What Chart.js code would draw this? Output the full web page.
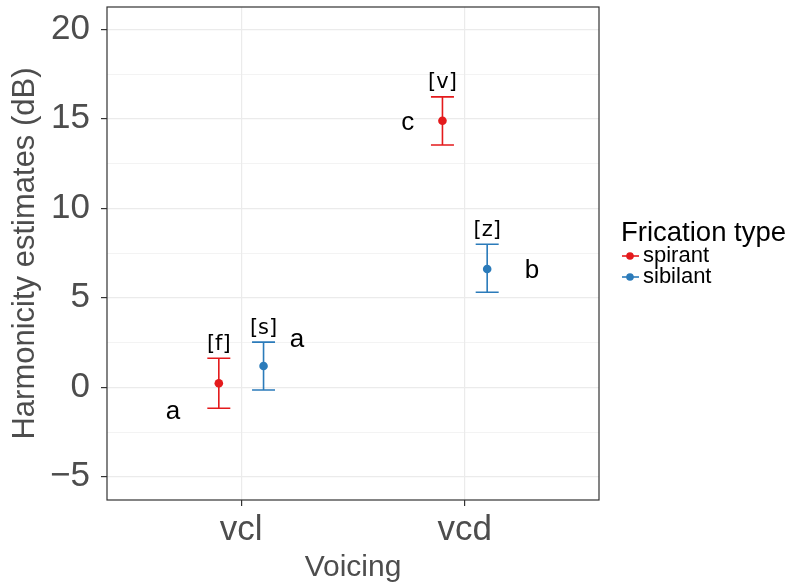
<!DOCTYPE html>
<html>
<head>
<meta charset="utf-8">
<script src="https://cdn.jsdelivr.net/npm/chart.js@4"></script>
<style>
html,body{margin:0;padding:0;background:#fff;}
#wrap{width:795px;height:583px;position:relative;}
</style>
</head>
<body>
<div id="wrap"><canvas id="c" width="795" height="583"></canvas></div>
<script>
// ---- data ----
const categories = ['vcl', 'vcd'];
const seriesNames = ['spirant', 'sibilant'];
const spirantMean = [0.22, 14.89];
const spirantLow = [-1.17, 13.54];
const spirantHigh = [1.62, 16.23];
const sibilantMean = [1.19, 6.61];
const sibilantLow = [-0.15, 5.31];
const sibilantHigh = [2.52, 7.99];
const spirantPhones = ['[f]', '[v]'];
const sibilantPhones = ['[s]', '[z]'];
const spirantLetters = ['a', 'c'];
const sibilantLetters = ['a', 'b'];
const spirantLetterX = [0.695, 1.745];
const spirantLetterY = [-1.45, 14.7];
const sibilantLetterX = [1.25, 2.3];
const sibilantLetterY = [2.57, 6.47];
const yTicks = [-5, -2.5, 0, 2.5, 5, 7.5, 10, 12.5, 15, 17.5, 20];

// ---- styles ----
const RED = '#e41a1c';
const BLUE = '#2b7bba';
const DODGE = 0.1;

function mk(means, low, high, phones, letters, lx, ly, off) {
  return means.map((m, i) => ({x: i + 1 + off, y: m, lo: low[i], hi: high[i], phone: phones[i], letter: letters[i], lx: lx[i], ly: ly[i]}));
}
const spirantPts = mk(spirantMean, spirantLow, spirantHigh, spirantPhones, spirantLetters, spirantLetterX, spirantLetterY, -DODGE);
const sibilantPts = mk(sibilantMean, sibilantLow, sibilantHigh, sibilantPhones, sibilantLetters, sibilantLetterX, sibilantLetterY, DODGE);

const annot = {
  id: 'annot',
  beforeDatasetsDraw(chart) {
    const ctx = chart.ctx, xs = chart.scales.x, ys = chart.scales.y;
    chart.data.datasets.forEach(ds => {
      ctx.save();
      ctx.strokeStyle = ds.backgroundColor;
      ctx.lineWidth = 1.6;
      ds.data.forEach(p => {
        const px = xs.getPixelForValue(p.x);
        const yl = ys.getPixelForValue(p.lo), yh = ys.getPixelForValue(p.hi);
        ctx.beginPath();
        ctx.moveTo(px, yl); ctx.lineTo(px, yh);
        ctx.moveTo(px - 11.5, yl); ctx.lineTo(px + 11.5, yl);
        ctx.moveTo(px - 11.5, yh); ctx.lineTo(px + 11.5, yh);
        ctx.stroke();
      });
      ctx.restore();
    });
  },
  afterDraw(chart) {
    const ctx = chart.ctx, xs = chart.scales.x, ys = chart.scales.y, a = chart.chartArea;
    ctx.save();
    // panel border
    ctx.strokeStyle = '#333333';
    ctx.lineWidth = 1.2;
    ctx.strokeRect(a.left, a.top, a.right - a.left, a.bottom - a.top);
    // labels
    ctx.fillStyle = '#000';
    ctx.textAlign = 'center';
    ctx.textBaseline = 'middle';
    chart.data.datasets.forEach(ds => {
      ds.data.forEach(p => {
        ctx.font = '21px "DejaVu Sans"';
        ctx.fillText(p.phone, xs.getPixelForValue(p.x), ys.getPixelForValue(p.hi) - 14);
        ctx.font = '26px "Liberation Sans"';
        ctx.fillText(p.letter, xs.getPixelForValue(p.lx), ys.getPixelForValue(p.ly) - 1);
      });
    });
    // legend
    ctx.textAlign = 'left';
    ctx.font = '27.5px "Liberation Sans"';
    ctx.fillText('Frication type', 621, 233);
    ctx.font = '22px "Liberation Sans"';
    chart.data.datasets.forEach((ds, i) => {
      const y = 256 + i * 21;
      ctx.strokeStyle = ds.backgroundColor;
      ctx.lineWidth = 1.6;
      ctx.beginPath(); ctx.moveTo(622, y); ctx.lineTo(639, y); ctx.stroke();
      ctx.fillStyle = ds.backgroundColor;
      ctx.beginPath(); ctx.arc(630, y, 3.8, 0, Math.PI * 2); ctx.fill();
      ctx.fillStyle = '#000';
      ctx.fillText(ds.label, 643, y);
    });
    ctx.restore();
  }
};

new Chart(document.getElementById('c'), {
  type: 'scatter',
  data: {
    datasets: [
      {label: seriesNames[0], data: spirantPts, backgroundColor: RED, borderColor: RED, pointRadius: 4.3, pointBorderWidth: 0, pointHoverRadius: 4.3},
      {label: seriesNames[1], data: sibilantPts, backgroundColor: BLUE, borderColor: BLUE, pointRadius: 4.3, pointBorderWidth: 0, pointHoverRadius: 4.3}
    ]
  },
  options: {
    responsive: false,
    animation: false,
    events: [],
    layout: {padding: {top: 7, right: 196, left: 0, bottom: 0}},
    plugins: {legend: {display: false}, tooltip: {enabled: false}},
    scales: {
      x: {
        type: 'linear', min: 0.4, max: 2.6,
        afterBuildTicks: s => { s.ticks = categories.map((c, i) => ({value: i + 1})); },
        afterFit: s => { s.height = 83; s.paddingLeft = 0; s.paddingRight = 0; },
        ticks: {
          callback: v => categories[Math.round(v) - 1],
          font: {family: 'Liberation Sans', size: 35},
          color: '#4d4d4d', padding: 3, maxRotation: 0, autoSkip: false
        },
        grid: {color: '#ebebeb', lineWidth: 1.2, tickLength: 6, tickColor: '#333333', drawTicks: true},
        border: {display: false},
        title: {display: true, text: 'Voicing', font: {family: 'Liberation Sans', size: 30, lineHeight: 1.0}, color: '#4d4d4d', padding: {top: 0, bottom: 0}}
      },
      y: {
        type: 'linear', min: -6.3, max: 21.25,
        afterBuildTicks: s => { s.ticks = yTicks.map(v => ({value: v})); },
        afterFit: s => { s.width = 107; s.paddingTop = 0; s.paddingBottom = 0; },
        ticks: {
          callback: v => (v % 5 === 0 ? (v < 0 ? '\u2212' + Math.abs(v) : String(v)) : ''),
          font: {family: 'Liberation Sans', size: 35},
          color: '#4d4d4d', padding: 11, autoSkip: false
        },
        grid: {
          color: '#ebebeb',
          lineWidth: c => (c.tick && c.tick.value % 5 === 0 ? 1.2 : 0.6),
          tickLength: 6,
          tickColor: c => (c.tick && c.tick.value % 5 === 0 ? '#333333' : 'rgba(0,0,0,0)')
        },
        border: {display: false},
        title: {display: true, text: 'Harmonicity estimates (dB)', font: {family: 'Liberation Sans', size: 31}, color: '#4d4d4d', padding: {top: 7, bottom: 0}}
      }
    }
  },
  plugins: [annot]
});
</script>
</body>
</html>
